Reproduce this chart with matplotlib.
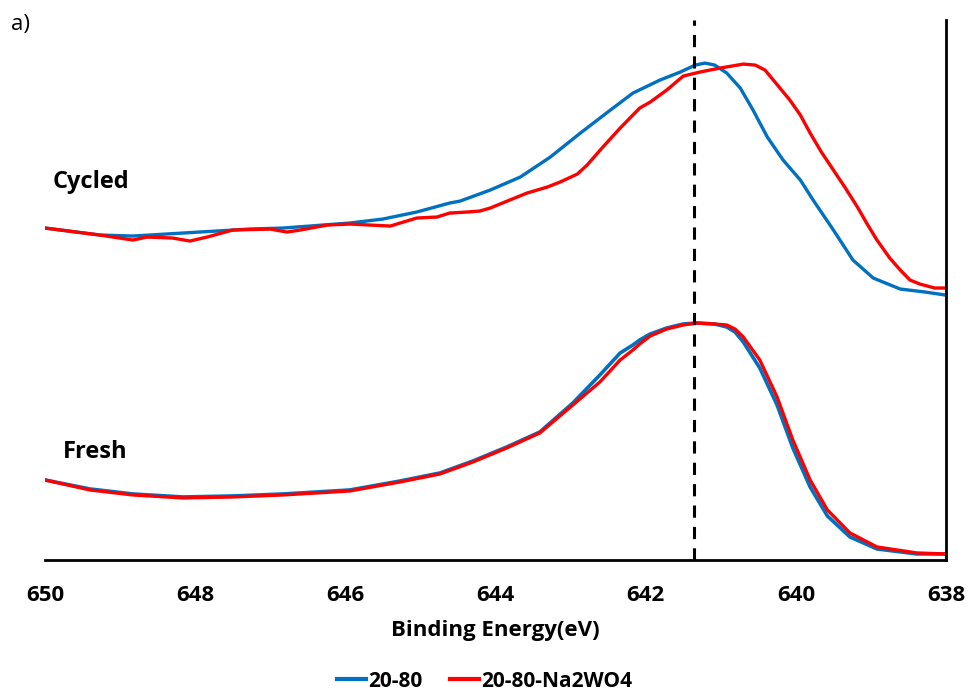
import matplotlib
matplotlib.use("Agg")
import matplotlib.pyplot as plt

# binding energy (eV) and intensity (arb. units, 0 = baseline of plot)
cyc_blue_x = [650.00, 649.27, 648.83, 647.94, 647.27, 646.83, 645.94, 645.50, 645.05, 644.61,
              644.47, 644.07, 643.67, 643.27, 642.87, 642.47, 642.17, 641.81, 641.54, 641.34,
              641.21, 641.08, 640.92, 640.74, 640.57, 640.38, 640.17, 639.94, 639.77, 639.50,
              639.24, 638.97, 638.61, 638.28, 638.01]
cyc_blue_y = [332, 325, 324, 328, 331, 332, 337, 341, 348, 357,
              359, 370, 383, 403, 427, 450, 467, 480, 488, 495,
              497, 495, 487, 472, 450, 423, 400, 380, 360, 330,
              300, 282, 271, 268, 265]

cyc_red_x = [650.00, 649.27, 648.83, 648.64, 648.30, 648.07, 647.84, 647.50, 647.00, 646.78,
             646.60, 646.24, 645.94, 645.40, 645.27, 645.05, 644.78, 644.61, 644.38, 644.21,
             644.07, 643.81, 643.58, 643.31, 643.14, 642.91, 642.78, 642.57, 642.34, 642.08,
             641.94, 641.72, 641.50, 641.28, 641.01, 640.70, 640.54, 640.41, 640.30, 640.08,
             639.94, 639.81, 639.66, 639.50, 639.34, 639.18, 639.05, 638.92, 638.75, 638.61,
             638.48, 638.35, 638.15, 638.01]
cyc_red_y = [332, 325, 320, 323, 322, 319, 323, 330, 331, 328,
             330, 335, 336, 334, 337, 342, 343, 347, 348, 349,
             352, 360, 367, 373, 378, 386, 395, 413, 432, 452,
             458, 470, 484, 488, 492, 496, 495, 490, 480, 460,
             445, 427, 408, 390, 372, 353, 336, 320, 302, 290,
             280, 276, 272, 272]

fresh_x = [650.00, 649.40, 648.83, 648.16, 647.50, 646.83, 645.94, 645.27, 644.74, 644.30,
           643.85, 643.41, 642.97, 642.61, 642.34, 642.17, 642.08, 641.94, 641.72, 641.50,
           641.32, 641.08, 640.92, 640.81, 640.70, 640.48, 640.25, 640.04, 639.81, 639.58,
           639.28, 638.92, 638.39, 638.01]
fresh_blue_y = [80, 71, 66, 63, 64, 66, 70, 79, 87, 99,
                113, 128, 157, 185, 207, 215, 220, 226, 232, 236,
                237, 236, 233, 228, 218, 192, 155, 112, 73, 44,
                23, 11, 6, 6]
fresh_red_y = [80, 70, 65, 62, 63, 65, 69, 78, 86, 98,
               112, 127, 155, 178, 200, 210, 216, 224, 231, 235,
               237, 236, 235, 231, 223, 200, 163, 120, 80, 50,
               27, 13, 7, 6]

cycled_peak = 641.36
labels = ["20-80", "20-80-Na2WO4"]
blue = "#0070C0"
red = "#FF0000"

plt.rcParams['font.family'] = ['Open Sans', 'DejaVu Sans']

fig = plt.figure(figsize=(9.69, 6.93), dpi=100)
ax = fig.add_axes([0.0464, 0.192, 0.9299, 0.779])

ax.plot(cyc_blue_x, cyc_blue_y, color=blue, lw=2.4, label=labels[0], solid_joinstyle='round')
ax.plot(cyc_red_x, cyc_red_y, color=red, lw=2.4, label=labels[1], solid_joinstyle='round')
ax.plot(fresh_x, fresh_blue_y, color=blue, lw=2.6, solid_joinstyle='round')
ax.plot(fresh_x, fresh_red_y, color=red, lw=2.4, solid_joinstyle='round')
ax.axvline(cycled_peak, color="black", lw=2.2, dashes=(4, 3))

ax.set_xlim(650, 638)
ax.set_ylim(0, 540)
ax.set_xticks([650, 648, 646, 644, 642, 640, 638])
ax.set_yticks([])
ax.tick_params(axis='x', length=0, pad=18, labelsize=16)
for t in ax.get_xticklabels():
    t.set_fontweight('bold')
ax.spines['top'].set_visible(False)
ax.spines['left'].set_visible(False)
ax.spines['bottom'].set_linewidth(2)
ax.spines['right'].set_linewidth(2)
ax.set_xlabel("Binding Energy(eV)", fontsize=16, fontweight='bold', labelpad=10)

ax.text(0.008, 0.7, "Cycled", transform=ax.transAxes, fontsize=17, fontweight='bold',
        va='center')
ax.text(0.02, 0.2, "Fresh", transform=ax.transAxes, fontsize=17, fontweight='bold',
        va='center')
fig.text(0.011, 0.964, "a)", fontsize=16, va='center')

leg = fig.legend(loc='center', bbox_to_anchor=(0.5, 0.017), ncol=2, frameon=False,
                 fontsize=15, handlelength=1.4, handletextpad=0.12, columnspacing=1.3)
for t in leg.get_texts():
    t.set_fontweight('bold')
for l in leg.get_lines():
    l.set_linewidth(3)

fig.savefig("out.png", dpi=100)
